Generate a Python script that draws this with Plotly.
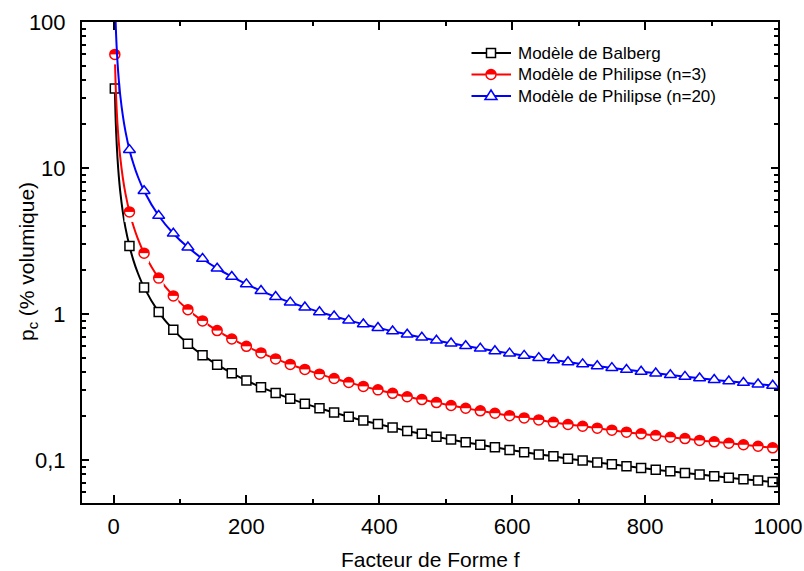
import numpy as np
import plotly.graph_objects as go

# ---------------- data ----------------
f_markers = [2, 24, 46, 68, 90, 112, 134, 156, 178, 200, 222, 244, 266, 288, 310,
             332, 354, 376, 398, 420, 442, 464, 486, 508, 530, 552, 574, 596, 618,
             640, 662, 684, 706, 728, 750, 772, 794, 816, 838, 860, 882, 904, 926,
             948, 970, 992]

balberg = [35, 2.92, 1.52, 1.03, 0.778, 0.625, 0.522, 0.449, 0.393, 0.350, 0.315,
           0.287, 0.263, 0.243, 0.226, 0.211, 0.198, 0.186, 0.176, 0.167, 0.158,
           0.151, 0.144, 0.138, 0.132, 0.127, 0.122, 0.117, 0.113, 0.109, 0.106,
           0.102, 0.0992, 0.0962, 0.0933, 0.0907, 0.0882, 0.0858, 0.0835, 0.0814,
           0.0794, 0.0774, 0.0756, 0.0738, 0.0722, 0.0706]

philipse_n3 = [60, 5.0, 2.61, 1.76, 1.33, 1.07, 0.896, 0.769, 0.674, 0.600, 0.541,
               0.492, 0.451, 0.417, 0.387, 0.361, 0.339, 0.319, 0.302, 0.286, 0.271,
               0.259, 0.247, 0.236, 0.226, 0.217, 0.209, 0.201, 0.194, 0.188, 0.181,
               0.175, 0.170, 0.165, 0.160, 0.155, 0.151, 0.147, 0.143, 0.140, 0.136,
               0.133, 0.130, 0.127, 0.124, 0.121]

philipse_n20 = [160, 13.3, 6.96, 4.71, 3.56, 2.86, 2.39, 2.05, 1.80, 1.60, 1.44,
                1.31, 1.20, 1.11, 1.03, 0.964, 0.904, 0.851, 0.804, 0.762, 0.724,
                0.690, 0.658, 0.630, 0.604, 0.580, 0.557, 0.537, 0.518, 0.500, 0.483,
                0.468, 0.453, 0.440, 0.427, 0.415, 0.403, 0.392, 0.382, 0.372, 0.363,
                0.354, 0.346, 0.338, 0.330, 0.323]

# extra points read along the steep part of the curves (line only)
f_line_extra = [3, 4, 6, 8, 10, 14, 18, 30, 36]
balberg_extra = [23.3, 17.5, 11.7, 8.75, 7.0, 5.0, 3.89, 2.33, 1.94]
philipse_n3_extra = [40, 30, 20, 15, 12, 8.57, 6.67, 4.0, 3.33]
philipse_n20_extra = [107, 80, 53.3, 40, 32, 22.9, 17.8, 10.7, 8.89]

legend_names = ["Modèle de Balberg", "Modèle de Philipse (n=3)", "Modèle de Philipse (n=20)"]
x_tickvals = [0, 200, 400, 600, 800, 1000]
y_tickvals = [0.1, 1, 10, 100]
y_ticktext = ["0,1", "1", "10", "100"]
y_minor = [0.06, 0.07, 0.08, 0.09, 0.2, 0.3, 0.4, 0.5, 0.6, 0.7, 0.8, 0.9,
           2, 3, 4, 5, 6, 7, 8, 9, 20, 30, 40, 50, 60, 70, 80, 90]

# ---------------- layout geometry ----------------
W, H = 804, 571
ML, MR, MT, MB = 82, 26, 22, 68
PW, PH = W - ML - MR, H - MT - MB
XR = [-47.4, 1000]
YR = [np.log10(0.0507), 2]
FONT = "Liberation Sans, Arial, sans-serif"


def merged(fm, ym, fe, ye):
    pairs = sorted(list(zip(fm, ym)) + list(zip(fe, ye)))
    return [p[0] for p in pairs], [p[1] for p in pairs]


def px2paper_x(px):
    return (px - ML) / PW


def px2paper_y(py):
    return 1 - (py - MT) / PH


fig = go.Figure()

# Balberg
lx, ly = merged(f_markers, balberg, f_line_extra, balberg_extra)
fig.add_trace(go.Scatter(x=lx, y=ly, mode="lines", line=dict(color="black", width=2, shape="spline"),
                         showlegend=False, hoverinfo="skip"))
fig.add_trace(go.Scatter(x=f_markers, y=balberg, mode="markers", name=legend_names[0],
                         marker=dict(symbol="square", size=9, color="white",
                                     line=dict(color="black", width=1.5)), showlegend=False))

# Philipse n=3 (half-filled circles)
CS = 10
shift = 10 ** (-(CS / 2) * (YR[1] - YR[0]) / PH)
lx, ly = merged(f_markers, philipse_n3, f_line_extra, philipse_n3_extra)
fig.add_trace(go.Scatter(x=lx, y=ly, mode="lines", line=dict(color="red", width=2, shape="spline"),
                         showlegend=False, hoverinfo="skip"))
fig.add_trace(go.Scatter(x=f_markers, y=philipse_n3, mode="markers", name=legend_names[1],
                         marker=dict(symbol="circle", size=CS, color="red", line=dict(width=0)),
                         showlegend=False))
fig.add_trace(go.Scatter(x=f_markers, y=[v * shift for v in philipse_n3], mode="markers",
                         marker=dict(symbol="square", size=CS, color="white", line=dict(width=0)),
                         showlegend=False, hoverinfo="skip"))
fig.add_trace(go.Scatter(x=f_markers, y=philipse_n3, mode="markers",
                         marker=dict(symbol="circle-open", size=CS, color="red", line=dict(color="red", width=1.5)),
                         showlegend=False, hoverinfo="skip"))

# Philipse n=20
lx, ly = merged(f_markers, philipse_n20, f_line_extra, philipse_n20_extra)
fig.add_trace(go.Scatter(x=lx, y=ly, mode="lines", line=dict(color="blue", width=2, shape="spline"),
                         showlegend=False, hoverinfo="skip"))
fig.add_trace(go.Scatter(x=f_markers, y=philipse_n20, mode="markers", name=legend_names[2],
                         marker=dict(symbol="triangle-up", size=10.5, color="white",
                                     line=dict(color="blue", width=1.5)), showlegend=False))

# ---------------- manual legend ----------------
rows_py = [53, 74.5, 96]
line_x0, line_x1, mark_x, text_x = 471.5, 511, 491, 516
colors = ["black", "red", "blue"]
shapes = []
annotations = []
for i, py in enumerate(rows_py):
    yp = px2paper_y(py)
    xm = px2paper_x(mark_x)
    shapes.append(dict(type="line", xref="paper", yref="paper", x0=px2paper_x(line_x0), x1=px2paper_x(line_x1),
                       y0=yp, y1=yp, line=dict(color=colors[i], width=2), layer="above"))
    common = dict(xref="paper", yref="paper", xsizemode="pixel", ysizemode="pixel",
                  xanchor=xm, yanchor=yp, layer="above")
    if i == 0:
        shapes.append(dict(type="rect", x0=-4.5, x1=4.5, y0=-4.5, y1=4.5, fillcolor="white",
                           line=dict(color="black", width=1.5), **common))
    elif i == 1:
        shapes.append(dict(type="circle", x0=-5, x1=5, y0=-5, y1=5, fillcolor="red",
                           line=dict(width=0), **common))
        shapes.append(dict(type="rect", x0=-5.2, x1=5.2, y0=-5.2, y1=0, fillcolor="white",
                           line=dict(width=0), **common))
        shapes.append(dict(type="circle", x0=-5, x1=5, y0=-5, y1=5, fillcolor="rgba(0,0,0,0)",
                           line=dict(color="red", width=1.5), **common))
    else:
        shapes.append(dict(type="path", path="M -6,-3.5 L 6,-3.5 L 0,6 Z", fillcolor="white",
                           line=dict(color="blue", width=1.5), **common))
    annotations.append(dict(xref="paper", yref="paper", x=px2paper_x(text_x), y=yp,
                            xanchor="left", yanchor="middle", showarrow=False,
                            text=legend_names[i], font=dict(family=FONT, size=17, color="black")))

# axis titles
annotations.append(dict(xref="paper", yref="paper", x=px2paper_x(430), y=px2paper_y(559),
                        xanchor="center", yanchor="middle", showarrow=False,
                        text="Facteur de Forme f", font=dict(family=FONT, size=21, color="black")))
annotations.append(dict(xref="paper", yref="paper", x=px2paper_x(28), y=px2paper_y(262),
                        xanchor="center", yanchor="middle", showarrow=False, textangle=-90,
                        text="p<sub>c</sub> (% volumique)", font=dict(family=FONT, size=21, color="black")))

fig.update_layout(
    width=W, height=H,
    margin=dict(l=ML, r=MR, t=MT, b=MB, pad=0, autoexpand=False),
    paper_bgcolor="white", plot_bgcolor="white",
    showlegend=False,
    font=dict(family=FONT, size=22, color="black"),
    shapes=shapes, annotations=annotations,
    xaxis=dict(range=XR, tickvals=x_tickvals, ticks="inside", ticklen=8, tickwidth=1.5,
               tickcolor="black", showline=True, linecolor="black", linewidth=2, mirror="ticks",
               showgrid=False, zeroline=False, ticklabelstandoff=3, automargin=False,
               tickfont=dict(family=FONT, size=22),
               minor=dict(tickvals=[100, 300, 500, 700, 900], ticks="inside", ticklen=4,
                          tickwidth=1.5, tickcolor="black", showgrid=False)),
    yaxis=dict(type="log", range=YR, tickvals=y_tickvals, ticktext=y_ticktext, ticks="inside",
               ticklen=7, tickwidth=1.5, tickcolor="black", showline=True, linecolor="black",
               linewidth=2, mirror="ticks", showgrid=False, zeroline=False, ticklabelstandoff=10,
               automargin=False, tickfont=dict(family=FONT, size=22),
               minor=dict(tickvals=y_minor, ticks="inside", ticklen=4, tickwidth=1.5,
                          tickcolor="black", showgrid=False)),
)

fig.write_html("out.html", config={"displayModeBar": False},
               post_script="document.body.style.margin='0';document.body.style.overflow='hidden';")
